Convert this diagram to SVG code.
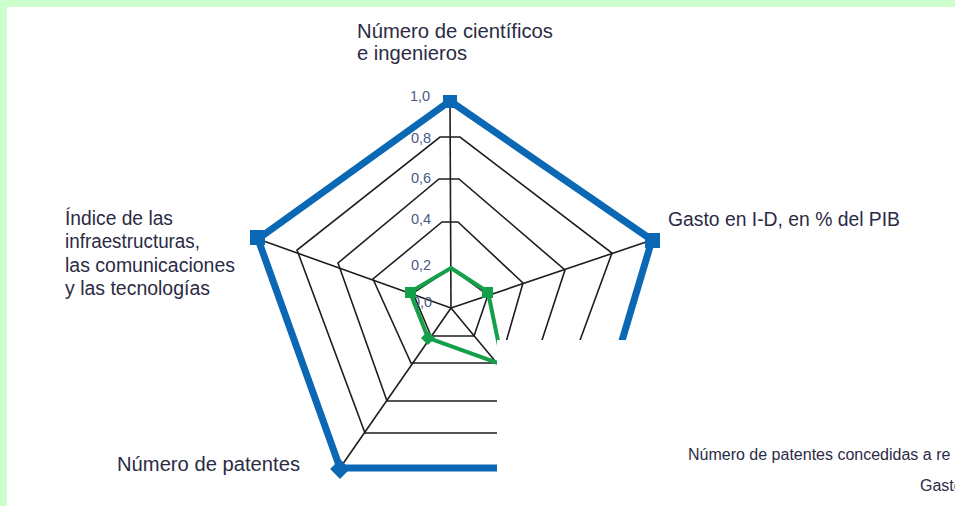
<svg xmlns="http://www.w3.org/2000/svg" width="955" height="506" viewBox="0 0 955 506">
<style>
.lbl{font-family:"Liberation Sans",Arial,sans-serif;font-size:19.5px;fill:#2b2b45}
.tick{font-family:"Liberation Sans",Arial,sans-serif;font-size:14.5px;fill:#4a5a86}
.sm{font-family:"Liberation Sans",Arial,sans-serif;font-size:16px;fill:#2b2b45}
.ring{fill:none;stroke:#1e1e1e;stroke-width:1.6;stroke-linejoin:miter}
.spoke{stroke:#1e1e1e;stroke-width:1.6}
.blue{fill:none;stroke:#0a68b4;stroke-width:7;stroke-linejoin:miter}
.bm{fill:#0a68b4}
.green{fill:none;stroke:#14a04a;stroke-width:4;stroke-linejoin:miter}
.gm{fill:#14a04a}
</style>
<rect x="0" y="0" width="955" height="506" fill="#ccffcc"/>
<rect x="7" y="7" width="948" height="499" fill="#ffffff"/>
<g id="grid">
<polygon class="ring" points="440,137 460,137 612,253 546,433 365,433 297,250"/>
<polygon class="ring" points="439,179 459,179 565,270 522,401 387,401 338,263"/>
<polygon class="ring" points="442,222 458,222 523,283 500,363 411,363 373,279"/>
<polygon class="ring" points="451,268 488,295 474,336 431,336 413,293"/>
<line class="spoke" x1="451" y1="308" x2="450" y2="101"/>
<line class="spoke" x1="451" y1="308" x2="652" y2="240"/>
<line class="spoke" x1="451" y1="308" x2="584" y2="468"/>
<line class="spoke" x1="451" y1="308" x2="340" y2="468"/>
<line class="spoke" x1="451" y1="308" x2="258" y2="239"/>
</g>
<g id="ticks">
<text class="tick" x="410" y="101">1,0</text>
<text class="tick" x="411" y="143">0,8</text>
<text class="tick" x="411" y="183">0,6</text>
<text class="tick" x="411" y="224">0,4</text>
<text class="tick" x="411" y="270">0,2</text>
<text class="tick" x="412" y="307">0,0</text>
</g>
<g id="series-max">
<polygon class="blue" points="450,101 652,240 584,468 340,468 258,239"/>
<rect class="bm" x="443" y="95" width="14" height="13"/>
<rect class="bm" x="645" y="233" width="15" height="15"/>
<rect class="bm" x="250" y="230" width="15" height="15"/>
<rect class="bm" x="333" y="462" width="14" height="14" transform="rotate(45 340 469)"/>
</g>
<g id="series-value">
<polygon class="green" points="451,268 488,292 503,365 428,338 410,292"/>
<rect class="gm" x="482" y="287" width="11" height="11"/>
<rect class="gm" x="405" y="287" width="11" height="11"/>
<rect class="gm" x="423" y="333" width="10" height="10" transform="rotate(45 428 338)"/>
</g>
<rect x="497" y="340" width="458" height="166" fill="#ffffff"/>
<g id="axis-top"><text class="lbl" x="357" y="38" textLength="196" lengthAdjust="spacingAndGlyphs">Número de científicos</text><text class="lbl" x="357" y="60" textLength="110" lengthAdjust="spacingAndGlyphs">e ingenieros</text></g>
<g id="axis-right"><text class="lbl" x="668" y="226" textLength="232" lengthAdjust="spacingAndGlyphs">Gasto en I-D, en % del PIB</text></g>
<g id="axis-left">
<text class="lbl" x="65" y="225" textLength="108" lengthAdjust="spacingAndGlyphs">Índice de las</text>
<text class="lbl" x="65" y="248" textLength="135" lengthAdjust="spacingAndGlyphs">infraestructuras,</text>
<text class="lbl" x="65" y="272" textLength="170" lengthAdjust="spacingAndGlyphs">las comunicaciones</text>
<text class="lbl" x="65" y="295" textLength="145" lengthAdjust="spacingAndGlyphs">y las tecnologías</text>
</g>
<g id="axis-bottom-left"><text class="lbl" x="117" y="471" textLength="183" lengthAdjust="spacingAndGlyphs">Número de patentes</text></g>
<g id="legend-fragment">
<text class="sm" x="688" y="460">Número de patentes concedidas a re</text>
<text class="sm" x="920" y="491">Gasto</text>
</g>
</svg>
